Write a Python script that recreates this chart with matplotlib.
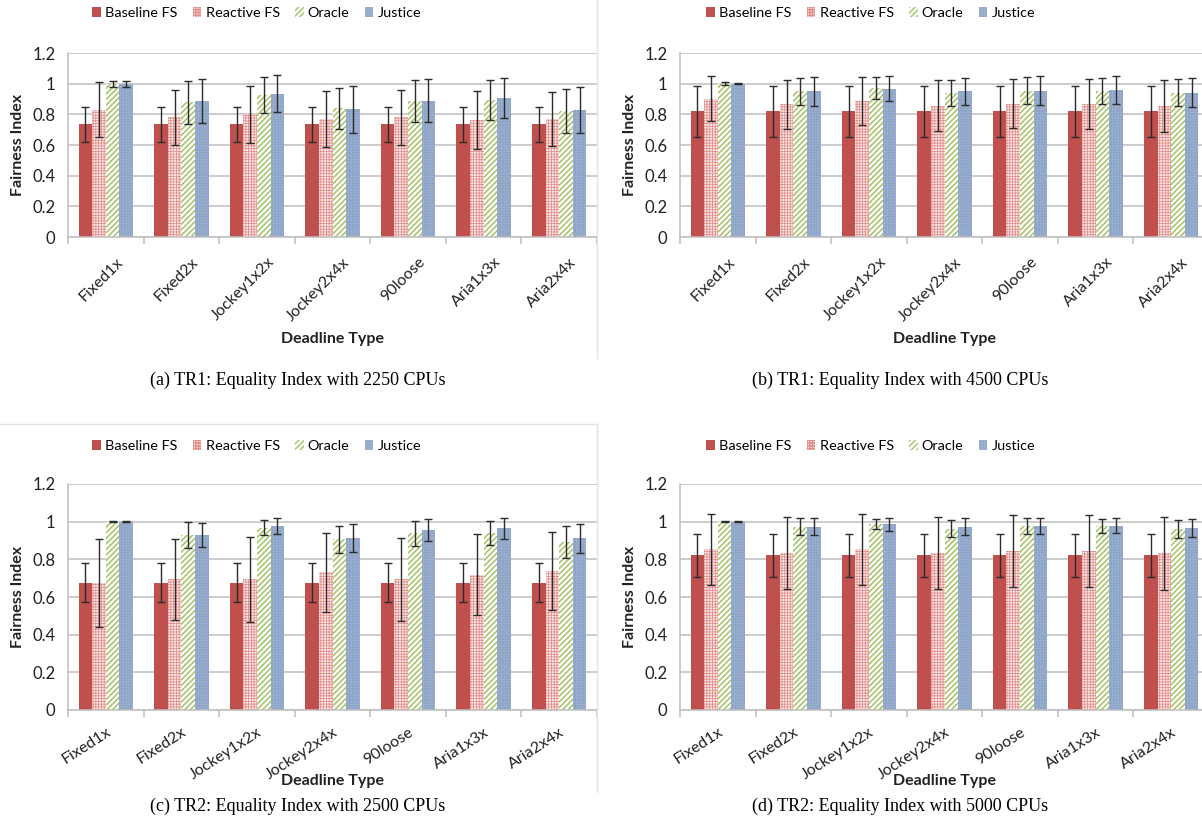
import numpy as np
import matplotlib
matplotlib.use("Agg")
import matplotlib.pyplot as plt
import matplotlib.transforms as mtransforms
from matplotlib.patches import Patch
from matplotlib.lines import Line2D

plt.rcParams['font.family'] = ['Lato', 'DejaVu Sans']

categories = ["Fixed1x", "Fixed2x", "Jockey1x2x", "Jockey2x4x", "90loose", "Aria1x3x", "Aria2x4x"]
series_names = ["Baseline FS", "Reactive FS", "Oracle", "Justice"]

# (a) TR1, 2250 CPUs
a_base = [0.735] * 7
a_base_err = [0.113] * 7
a_reactive = [0.83, 0.78, 0.80, 0.77, 0.78, 0.765, 0.77]
a_reactive_err = [0.18, 0.18, 0.185, 0.18, 0.18, 0.19, 0.175]
a_oracle = [1.0, 0.88, 0.925, 0.84, 0.888, 0.893, 0.82]
a_oracle_err = [0.02, 0.14, 0.117, 0.135, 0.138, 0.13, 0.142]
a_justice = [1.0, 0.888, 0.935, 0.832, 0.89, 0.906, 0.828]
a_justice_err = [0.02, 0.145, 0.12, 0.153, 0.143, 0.13, 0.15]

# (b) TR1, 4500 CPUs
b_base = [0.82] * 7
b_base_err = [0.168] * 7
b_reactive = [0.903, 0.865, 0.888, 0.856, 0.87, 0.87, 0.854]
b_reactive_err = [0.145, 0.16, 0.157, 0.167, 0.16, 0.163, 0.168]
b_oracle = [1.0, 0.95, 0.972, 0.942, 0.955, 0.953, 0.942]
b_oracle_err = [0.008, 0.09, 0.07, 0.085, 0.09, 0.085, 0.088]
b_justice = [1.0, 0.95, 0.968, 0.95, 0.955, 0.957, 0.942]
b_justice_err = [0.005, 0.095, 0.08, 0.09, 0.092, 0.09, 0.093]

# (c) TR2, 2500 CPUs
c_base = [0.675] * 7
c_base_err = [0.103] * 7
c_reactive = [0.675, 0.693, 0.693, 0.732, 0.693, 0.719, 0.737]
c_reactive_err = [0.235, 0.215, 0.225, 0.21, 0.218, 0.215, 0.207]
c_oracle = [1.0, 0.929, 0.968, 0.906, 0.938, 0.941, 0.892]
c_oracle_err = [0.003, 0.07, 0.04, 0.073, 0.067, 0.064, 0.087]
c_justice = [1.0, 0.929, 0.977, 0.915, 0.956, 0.964, 0.911]
c_justice_err = [0.003, 0.066, 0.045, 0.075, 0.06, 0.057, 0.077]

# (d) TR2, 5000 CPUs
d_base = [0.822] * 7
d_base_err = [0.115] * 7
d_reactive = [0.853, 0.835, 0.853, 0.835, 0.844, 0.844, 0.831]
d_reactive_err = [0.19, 0.19, 0.19, 0.19, 0.19, 0.19, 0.195]
d_oracle = [1.0, 0.972, 0.986, 0.963, 0.977, 0.977, 0.963]
d_oracle_err = [0.003, 0.045, 0.027, 0.046, 0.043, 0.037, 0.048]
d_justice = [1.0, 0.972, 0.986, 0.972, 0.977, 0.978, 0.968]
d_justice_err = [0.003, 0.045, 0.035, 0.045, 0.045, 0.04, 0.047]

captions = ["(a) TR1: Equality Index with 2250 CPUs",
            "(b) TR1: Equality Index with 4500 CPUs",
            "(c) TR2: Equality Index with 2500 CPUs",
            "(d) TR2: Equality Index with 5000 CPUs"]

# bar styles: (facecolor, hatch, hatch colour, hatch linewidth)
STYLES = [
    ("#C0504D", None, "#C0504D", 0.5),
    ("#FBE9E8", "++++++", "#E48C89", 0.55),
    ("#FFFFFF", "//////", "#A3C264", 1.1),
    ("#8CA3C6", "++++++", "#9CB0D0", 0.5),
]
GRID = "#BFBFBF"
TXT = "#222222"
W, H = 1202, 826

fig = plt.figure(figsize=(W / 100, H / 100), dpi=100)


def px_axes(left, top, right, bottom):
    return fig.add_axes([left / W, 1 - bottom / H, (right - left) / W, (bottom - top) / H])


def draw_panel(ax, means, errs, rot, dx, dy):
    x = np.arange(len(categories)) + 0.5
    width = 0.18
    for k in range(4):
        fc, hatch, hc, hlw = STYLES[k]
        with plt.rc_context({'hatch.linewidth': hlw}):
            ax.bar(x + (k - 1.5) * width, means[k], width, color=fc, hatch=hatch,
                   edgecolor=hc, linewidth=0, zorder=2)
        ax.errorbar(x + (k - 1.5) * width, means[k], yerr=errs[k], fmt="none",
                    ecolor="#2b2b2b", elinewidth=1.0, capsize=3, capthick=1.0, zorder=3)
    ax.set_xlim(0, 7)
    ax.set_ylim(0, 1.2)
    ax.set_yticks(np.arange(0, 1.21, 0.2))
    ax.set_yticklabels(["0", "0.2", "0.4", "0.6", "0.8", "1", "1.2"], fontsize=12, color=TXT)
    ax.grid(axis="y", color=GRID, linewidth=1.1, zorder=0)
    ax.set_axisbelow(True)
    # category labels placed by hand so they can be nudged like Excel does
    ax.set_xticks([])
    base = ax.get_xaxis_transform()
    offset = mtransforms.ScaledTranslation(dx / 100, dy / 100, fig.dpi_scale_trans)
    for xi, name in zip(x, categories):
        ax.text(xi, 0, name, transform=base + offset, rotation=rot, ha="right", va="top",
                rotation_mode="anchor", fontsize=11.5, color=TXT, clip_on=False)
    ax.set_xticks(np.arange(8), minor=True)
    ax.tick_params(axis="x", which="minor", length=5, color=GRID, width=1.1)
    ax.tick_params(axis="y", length=0, pad=9)
    for s in ["top", "right"]:
        ax.spines[s].set_visible(False)
    for s in ["left", "bottom"]:
        ax.spines[s].set_color(GRID)
        ax.spines[s].set_linewidth(1.1)


panels = [
    ([a_base, a_reactive, a_oracle, a_justice], [a_base_err, a_reactive_err, a_oracle_err, a_justice_err]),
    ([b_base, b_reactive, b_oracle, b_justice], [b_base_err, b_reactive_err, b_oracle_err, b_justice_err]),
    ([c_base, c_reactive, c_oracle, c_justice], [c_base_err, c_reactive_err, c_oracle_err, c_justice_err]),
    ([d_base, d_reactive, d_oracle, d_justice], [d_base_err, d_reactive_err, d_oracle_err, d_justice_err]),
]

# pixel boxes: left, top(1.2), right, bottom(0)
boxes = [(68, 53, 597, 237), (680, 53, 1209, 237), (68, 484, 597, 710), (680, 484, 1209, 710)]
rots = [45, 45, 33, 33]
label_dx = [10, 10, 0, 0]
label_dy = [-18, -18, -15, -15]
legend_y = [13, 446]
xlabel_y = [339, 781]
caption_y = [380, 806]

handles = []
for fc, h, hc, hlw in STYLES:
    with plt.rc_context({'hatch.linewidth': hlw}):
        handles.append(Patch(facecolor=fc, hatch=h, edgecolor=hc, linewidth=0))

for i, (box, (means, errs)) in enumerate(zip(boxes, panels)):
    ax = px_axes(*box)
    draw_panel(ax, means, errs, rots[i], label_dx[i], label_dy[i])
    row = i // 2
    cx = (box[0] + box[2]) / 2
    cy = (box[1] + box[3]) / 2
    ylx = 18 if i % 2 == 0 else 630
    fig.text(ylx / W, 1 - cy / H, "Fairness Index", rotation=90, ha="center", va="center",
             fontsize=11.5, fontweight="bold", color=TXT)
    fig.text(cx / W, 1 - xlabel_y[row] / H, "Deadline Type", ha="center", va="center",
             fontsize=11.5, fontweight="bold", color=TXT)
    lx = 92 if i % 2 == 0 else 706
    fig.legend(handles, series_names, loc="center left",
               bbox_to_anchor=(lx / W, 1 - legend_y[row] / H), ncol=4, frameon=False,
               fontsize=10.4, handlelength=0.6, handleheight=0.75, handletextpad=0.3,
               columnspacing=1.05, borderaxespad=0, borderpad=0)
    capx = 298 if i % 2 == 0 else 900
    fig.text(capx / W, 1 - caption_y[row] / H, captions[i], ha="center", va="center",
             fontsize=13, family=["Liberation Serif", "DejaVu Serif"])

# faint borders of the pasted chart images
fig.add_artist(Line2D([597 / W, 597 / W], [1, 1 - 358 / H], color="#E3E3E3", lw=1))
fig.add_artist(Line2D([0, 597 / W], [1 - 424 / H, 1 - 424 / H], color="#E3E3E3", lw=1))
fig.add_artist(Line2D([597 / W, 597 / W], [1 - 424 / H, 1 - 792 / H], color="#E3E3E3", lw=1))

fig.savefig("out.png", dpi=100)
